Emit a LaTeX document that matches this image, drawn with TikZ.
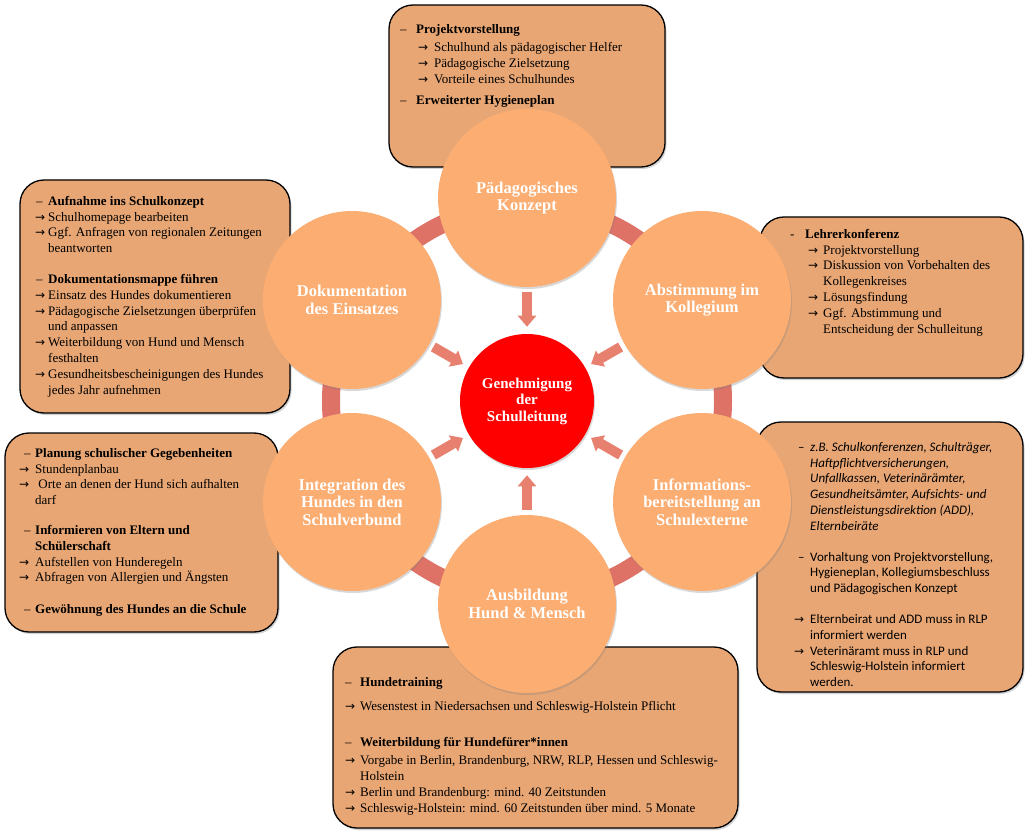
\documentclass[tikz,border=0pt]{standalone}
\usepackage{fontspec}
\setmainfont{Liberation Serif}
\newfontfamily\carlito{Carlito}
\newfontfamily\arrowfont{DejaVu Sans}
\usetikzlibrary{shadows,arrows.meta,calc}
\definecolor{boxfill}{HTML}{E8A674}
\definecolor{circfill}{HTML}{FBAD72}
\definecolor{ringc}{HTML}{DE7266}
\definecolor{arrc}{HTML}{E8806F}
\definecolor{centerc}{HTML}{FF0000}
\newcommand\mk[2]{\makebox[#1][l]{#2}}
\newcommand\ar{{\arrowfont\fontsize{12}{12}\selectfont →}}
\begin{document}
\begin{tikzpicture}[x=1pt,y=-1pt,
  infobox/.style={draw=black, line width=1.3pt, fill=boxfill, rounded corners=24pt, inner sep=0pt,
     drop shadow={shadow xshift=1.5pt,shadow yshift=-2pt,opacity=.35}},
  infotext/.style={anchor=north west, align=left, inner sep=0pt, font=\fontsize{13}{15.8}\selectfont},
  circ/.style={circle, fill=circfill, minimum size=178pt, inner sep=0pt, align=center, text=white,
     font=\bfseries\fontsize{16.5}{17.5}\selectfont,
     drop shadow={shadow xshift=1pt,shadow yshift=-2pt,opacity=.3}},
  centre/.style={circle, fill=centerc, minimum size=134pt, inner sep=0pt, align=center, text=white,
     font=\bfseries\fontsize{15}{16.5}\selectfont,
     drop shadow={shadow xshift=1pt,shadow yshift=-2pt,opacity=.3}},
  blockarrow/.style={draw=arrc, line width=10pt, -{Triangle[length=11pt,width=18pt]}}
]
\useasboundingbox (0,0) rectangle (1028,834);
\fill[white] (0,0) rectangle (1028,834);

% info boxes
\node[infobox, minimum width=276pt, minimum height=162pt] (b1) at (527,86) {};
\node[infobox, minimum width=270pt, minimum height=233pt] (b2) at (155,296.5) {};
\node[infobox, minimum width=263pt, minimum height=161pt] (b3) at (891.5,297.5) {};
\node[infobox, minimum width=273pt, minimum height=199pt] (b4) at (141.5,532.5) {};
\node[infobox, minimum width=266pt, minimum height=270pt] (b5) at (890,557) {};
\node[infobox, minimum width=405pt, minimum height=181pt] (b6) at (535.5,737.5) {};

% texts
\node[infotext] (t1) at (400,24) {%
\mk{16pt}{–}\textbf{Projektvorstellung}\\[2.8pt]
\hspace*{18pt}\mk{16pt}{\ar}Schulhund als pädagogischer Helfer\\
\hspace*{18pt}\mk{16pt}{\ar}Pädagogische Zielsetzung\\
\hspace*{18pt}\mk{16pt}{\ar}Vorteile eines Schulhundes\\[5.3pt]
\mk{16pt}{–}\textbf{Erweiterter Hygieneplan}};

\node[infotext] (t2) at (35,196) {%
\hspace*{1pt}\mk{12pt}{–}\textbf{Aufnahme ins Schulkonzept}\\
\mk{13pt}{\ar}Schulhomepage bearbeiten\\
\mk{13pt}{\ar}Ggf. Anfragen von regionalen Zeitungen\\
\hspace*{13pt}beantworten\\[15pt]
\hspace*{1pt}\mk{12pt}{–}\textbf{Dokumentationsmappe führen}\\
\mk{13pt}{\ar}Einsatz des Hundes dokumentieren\\
\mk{13pt}{\ar}Pädagogische Zielsetzungen überprüfen\\
\hspace*{13pt}und anpassen\\
\mk{13pt}{\ar}Weiterbildung von Hund und Mensch\\
\hspace*{13pt}festhalten\\
\mk{13pt}{\ar}Gesundheitsbescheinigungen des Hundes\\
\hspace*{13pt}jedes Jahr aufnehmen};

\node[infotext] (t3) at (790,229) {%
\mk{15pt}{-}\textbf{Lehrerkonferenz}\\
\hspace*{18pt}\mk{15pt}{\ar}Projektvorstellung\\
\hspace*{18pt}\mk{15pt}{\ar}Diskussion von Vorbehalten des\\
\hspace*{33pt}Kollegenkreises\\
\hspace*{18pt}\mk{15pt}{\ar}Lösungsfindung\\
\hspace*{18pt}\mk{15pt}{\ar}Ggf. Abstimmung und\\
\hspace*{33pt}Entscheidung der Schulleitung};

\node[infotext] (t4) at (19,448) {%
\hspace*{5pt}\mk{11pt}{–}\textbf{Planung schulischer Gegebenheiten}\\
\mk{16pt}{\ar}Stundenplanbau\\
\mk{16pt}{\ar} Orte an denen der Hund sich aufhalten\\
\hspace*{16pt}darf\\[14pt]
\hspace*{5pt}\mk{11pt}{–}\textbf{Informieren von Eltern und}\\
\hspace*{16pt}\textbf{Schülerschaft}\\
\mk{16pt}{\ar}Aufstellen von Hunderegeln\\
\mk{16pt}{\ar}Abfragen von Allergien und Ängsten\\[16pt]
\hspace*{5pt}\mk{11pt}{–}\textbf{Gewöhnung des Hundes an die Schule}};

\node[infotext, font=\carlito\fontsize{13}{15.8}\selectfont] (t5) at (794,442) {%
\hspace*{4pt}\mk{12pt}{–}\textit{z.B. Schulkonferenzen, Schulträger,}\\
\hspace*{16pt}\textit{Haftpflichtversicherungen,}\\
\hspace*{16pt}\textit{Unfallkassen, Veterinärämter,}\\
\hspace*{16pt}\textit{Gesundheitsämter, Aufsichts- und}\\
\hspace*{16pt}\textit{Dienstleistungsdirektion (ADD),}\\
\hspace*{16pt}\textit{Elternbeiräte}\\[15pt]
\hspace*{4pt}\mk{12pt}{–}Vorhaltung von Projektvorstellung,\\
\hspace*{16pt}Hygieneplan, Kollegiumsbeschluss\\
\hspace*{16pt}und Pädagogischen Konzept\\[15pt]
\mk{16pt}{\ar}Elternbeirat und ADD muss in RLP\\
\hspace*{16pt}informiert werden\\
\mk{16pt}{\ar}Veterinäramt muss in RLP und\\
\hspace*{16pt}Schleswig-Holstein informiert\\
\hspace*{16pt}werden.};

\node[infotext] (t6) at (345,677) {%
\mk{15pt}{–}\textbf{Hundetraining}\\[8pt]
\mk{15pt}{\ar}Wesenstest in Niedersachsen und Schleswig-Holstein Pflicht\\[21pt]
\mk{15pt}{–}\textbf{Weiterbildung für Hundefürer*innen}\\[2pt]
\mk{15pt}{\ar}Vorgabe in Berlin, Brandenburg, NRW, RLP, Hessen und Schleswig-\\
\hspace*{15pt}Holstein\\
\mk{15pt}{\ar}Berlin und Brandenburg: mind. 40 Zeitstunden\\
\mk{15pt}{\ar}Schleswig-Holstein: mind. 60 Zeitstunden über mind. 5 Monate};

% ring
\coordinate (c) at (527,401);
\draw[ringc, line width=18pt] (c) circle[radius=196pt];

% outer circles
\node[circ] (o1) at (527,198) {Pädagogisches\\Konzept};
\node[circ] (o2) at (702,300) {Abstimmung im\\Kollegium};
\node[circ] (o3) at (702,502) {Informations-\\bereitstellung an\\Schulexterne};
\node[circ] (o4) at (527,604) {Ausbildung\\Hund \& Mensch};
\node[circ] (o5) at (352,502) {Integration des\\Hundes in den\\Schulverbund};
\node[circ] (o6) at (352,300) {Dokumentation\\des Einsatzes};

% centre
\node[centre] (m) at (c) {Genehmigung\\der\\Schulleitung};

% arrows
\foreach \i in {1,...,6}
  \draw[blockarrow] ($(c)!0.535!(o\i)$) -- ($(c)!0.366!(o\i)$);
\end{tikzpicture}
\end{document}
